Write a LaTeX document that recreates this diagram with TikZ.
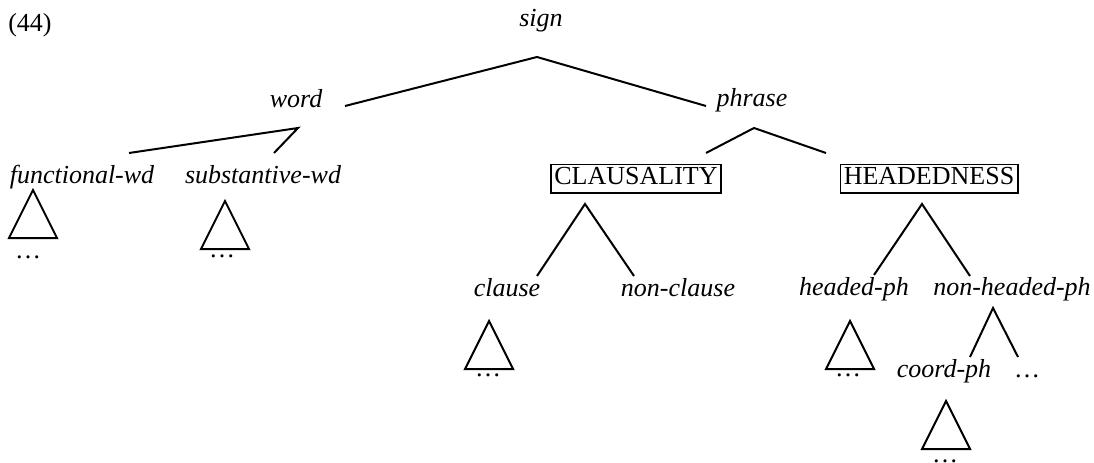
\documentclass[tikz,border=0pt]{standalone}
\usepackage{fontspec}
\setmainfont{Liberation Serif}
\begin{document}
\begin{tikzpicture}[x=0.75pt,y=-0.75pt,
  every node/.style={inner sep=0pt, font=\fontsize{19.5}{23}\selectfont},
  lbl/.style={anchor=base, font=\fontsize{19.5}{23}\selectfont\itshape},
  dots/.style={anchor=base},
  feat/.style={anchor=base, draw, line width=1.4pt, inner xsep=2.5pt, inner ysep=2.5pt, text depth=3.5pt},
  edge/.style={line width=1.5pt},
  tri/.pic={\draw[line width=1.5pt] (0,0) -- (-24,48) -- (24,48) -- cycle;}
]
\useasboundingbox (0,0) rectangle (1094,463);
% labels
\node[anchor=base west] (ex) at (8,32) {(44)};
\node[lbl] (sign) at (541,27) {sign};
\node[lbl] (word) at (296,108) {word};
\node[lbl] (phrase) at (752,107) {phrase};
\node[lbl] (fwd) at (82,184) {functional-wd};
\node[lbl] (swd) at (263,184) {substantive-wd};
\node[feat] (claus) at (636,185) {CLAUSALITY};
\node[feat] (head) at (929,185) {HEADEDNESS};
\node[lbl] (clause) at (507,296) {clause};
\node[lbl] (nclause) at (678,296) {non-clause};
\node[lbl] (hph) at (854,295) {headed-ph};
\node[lbl] (nhph) at (1012,295) {non-headed-ph};
\node[lbl] (cph) at (944,377) {coord-ph};
\node[dots] (cdots) at (1027,377) {…};
% branch points
\coordinate (signA) at (537,57);
\coordinate (wordE) at (345,106);
\coordinate (phraseW) at (706,106);
\coordinate (wordA) at (298,128);
\coordinate (fwdT) at (129,153);
\coordinate (swdT) at (274,153);
\coordinate (phraseA) at (754,128);
\coordinate (clausT) at (706,153);
\coordinate (headT) at (826,153);
\coordinate (clausA) at (585,204);
\coordinate (clauseT) at (537,276);
\coordinate (nclauseT) at (634,276);
\coordinate (headA) at (922,204);
\coordinate (hphT) at (874,275);
\coordinate (nhphT) at (970,276);
\coordinate (nhphA) at (993,308);
\coordinate (cphT) at (970,357);
\coordinate (cdotsT) at (1018,357);
% connectors
\draw[edge] (wordE) -- (signA) -- (phraseW);
\draw[edge] (fwdT) -- (wordA) -- (swdT);
\draw[edge] (clausT) -- (phraseA) -- (headT);
\draw[edge] (clauseT) -- (clausA) -- (nclauseT);
\draw[edge] (hphT) -- (headA) -- (nhphT);
\draw[edge] (cphT) -- (nhphA) -- (cdotsT);
% triangles
\pic at (33,190) {tri};
\node[dots] (d1) at (28,258.5) {…};
\pic at (225,201) {tri};
\node[dots] (d2) at (222,257.5) {…};
\pic at (489,321) {tri};
\node[dots] (d3) at (488,376.5) {…};
\pic at (850,321) {tri};
\node[dots] (d4) at (848,376.5) {…};
\pic at (946,401) {tri};
\node[dots] (d5) at (945,462) {…};
\end{tikzpicture}
\end{document}
